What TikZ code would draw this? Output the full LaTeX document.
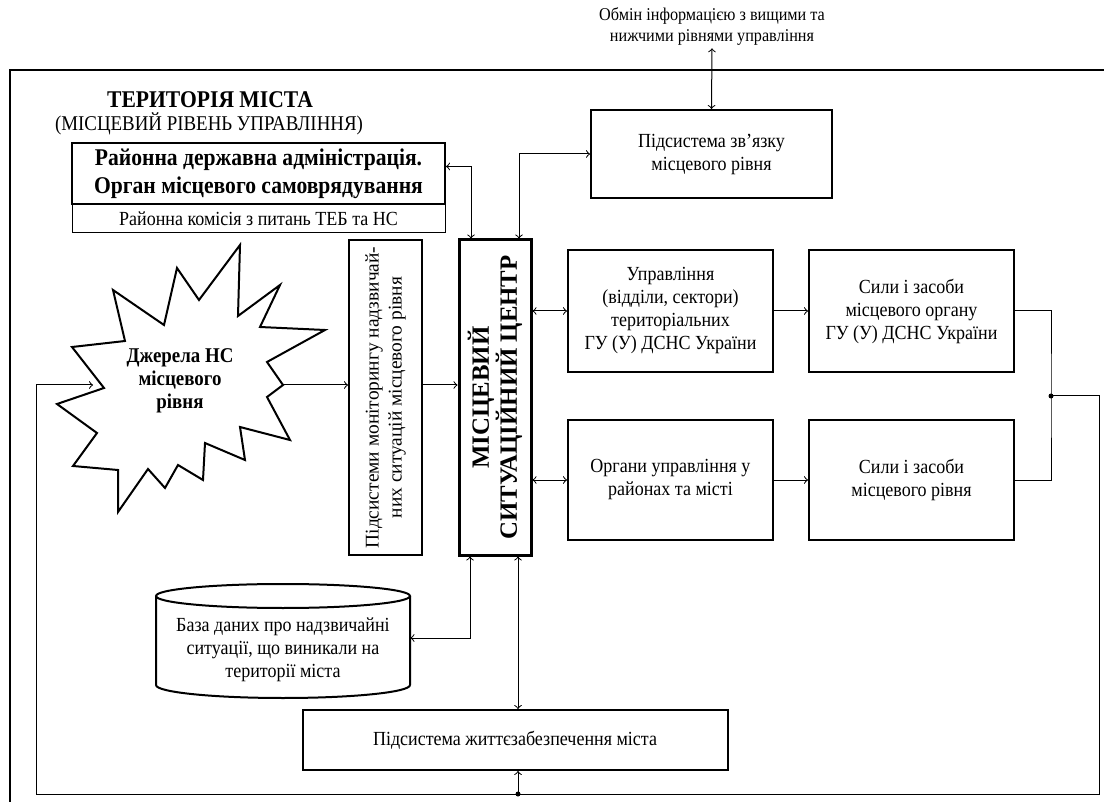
\documentclass[tikz,border=0pt]{standalone}
\usepackage{fontspec}
\setmainfont{Liberation Serif}[FakeStretch=0.9]
\newfontfamily\rotfont{Liberation Serif}
\usetikzlibrary{calc}

\begin{document}
\begin{tikzpicture}[x=0.5pt, y=-0.5pt, >=to,
  box/.style={draw, line width=1pt, align=center, inner sep=2pt, font=\fontsize{10}{11.5}\selectfont},
  txt/.style={align=center, inner sep=1pt, font=\fontsize{10}{11.5}\selectfont},
  bold/.style={txt, font=\bfseries\fontsize{12}{14}\selectfont},
  con/.style={line width=0.5pt}]
  \useasboundingbox (0,0) rectangle (1104,802);
  \draw[line width=1.2pt] (1104,70) -- (10,70) -- (10,802);
  \node[txt, font=\fontsize{9}{10.5}\selectfont] (obmin) at (712,27) {Обмін інформацією з вищими та\\нижчими рівнями управління};
  \node[bold] (ter) at (210,100) {ТЕРИТОРІЯ МІСТА};
  \node[txt, font=\fontsize{10.5}{12}\selectfont] (riv) at (209,124) {(МІСЦЕВИЙ РІВЕНЬ УПРАВЛІННЯ)};
  \node[box, minimum width=120.5pt, minimum height=44pt] (zv) at (711.5,154) {Підсистема зв’язку\\місцевого рівня};
  \node[box, font=\bfseries\fontsize{12}{14}\selectfont, minimum width=186.5pt, minimum height=30.5pt] (adm) at (258.5,173.5) {Районна державна адміністрація.\\Орган місцевого самоврядування};
  \node[box, line width=0.5pt, minimum width=186.5pt, minimum height=14.5pt] (kom) at (258.5,218.5) {Районна комісія з питань ТЕБ та НС};
  \node[box, minimum width=36.5pt, minimum height=157.5pt] (mon) at (385.5,397.5) {};
  \node[txt, rotate=90, font=\rotfont\fontsize{9.7}{11.5}\selectfont] (montxt) at (mon) {Підсистеми моніторингу надзвичай-\\них ситуацій місцевого рівня};
  \node[box, line width=1.5pt, minimum width=36pt, minimum height=157.5pt] (msc) at (495,397.5) {};
  \node[bold, rotate=90, font=\rotfont\bfseries\fontsize{12.4}{14}\selectfont] (msctxt) at (msc) {МІСЦЕВИЙ\\СИТУАЦІЙНИЙ ЦЕНТР};
  \node[box, minimum width=102.5pt, minimum height=61pt] (upr) at (670.5,311) {Управління\\(відділи, сектори)\\територіальних\\ГУ (У) ДСНС України};
  \node[box, minimum width=102.5pt, minimum height=61pt] (syl1) at (911.5,311) {Сили і засоби\\місцевого органу\\ГУ (У) ДСНС України};
  \node[box, minimum width=102.5pt, minimum height=60pt] (org) at (670.5,480) {Органи управління у\\районах та місті};
  \node[box, minimum width=102.5pt, minimum height=60pt] (syl2) at (911.5,480) {Сили і засоби\\місцевого рівня};
  \node[box, minimum width=212.5pt, minimum height=30pt] (zhyt) at (515,740) {Підсистема життєзабезпечення міста};
  \draw[line width=1pt] (240,245) -- (238,316) -- (280,285) -- (260,327) -- (325,330) -- (267,362) -- (283,385)
    -- (267,397) -- (290,440) -- (240,427) -- (245,460) -- (205,443) -- (203,480) -- (178,465) -- (165,488)
    -- (148,469) -- (118,512) -- (118,470) -- (73,466) -- (97,433) -- (57,404) -- (104,388) -- (72,347)
    -- (125,341) -- (113,290) -- (164,325) -- (177,268) -- (199,300) -- cycle;
  \node[txt, font=\bfseries\fontsize{10.5}{11.5}\selectfont] (dzh) at (180,381) {Джерела НС\\місцевого\\рівня};
  \coordinate (star) at (283,385);
  \coordinate (startip) at (93,385);
  \draw[line width=1pt] (156,596) -- (156,685) arc[start angle=180, end angle=0, x radius=127, y radius=13] -- (410,596);
  \draw[line width=1pt] (283,596) ellipse [x radius=127, y radius=12];
  \node[txt, minimum width=127pt] (bd) at (283,650) {База даних про надзвичайні\\ситуації, що виникали на\\території міста};
  \coordinate (mt1) at ($(msc.north)+(-24,0)$);
  \coordinate (mt2) at ($(msc.north)+(24,0)$);
  \coordinate (mb1) at ($(msc.south)+(-25,0)$);
  \coordinate (mb2) at ($(msc.south)+(23,0)$);
  \coordinate (j) at (1051,396);
  \coordinate (fbr) at (1099,794);
  \coordinate (fbl) at (36,794);
  \coordinate (dz) at (mb2 |- fbl);
  \draw[con, <->] (obmin.south) -- (zv.north);
  \draw[con, <->] ($(adm.east)+(0,-7)$) -| (mt1);
  \draw[con, <->] (mt2) |- (zv.west);
  \draw[con, ->] (star) -- (star -| mon.west);
  \draw[con, ->] (star -| mon.east) -- (star -| msc.west);
  \draw[con, <->] (msc.east |- upr.west) -- (upr.west);
  \draw[con, <->] (msc.east |- org.west) -- (org.west);
  \draw[con, ->] (upr.east) -- (syl1.west);
  \draw[con, ->] (org.east) -- (syl2.west);
  \draw[con] (syl1.east) -| (j) |- (syl2.east);
  \fill (j) circle (2.5);
  \draw[con, ->] (j) -| (fbr) -- (fbl) |- (startip);
  \draw[con, <->] ($(bd.east)+(0,-12)$) -| (mb1);
  \draw[con, <->] (mb2) -- (mb2 |- zhyt.north);
  \draw[con, ->] (dz) -- (dz |- zhyt.south);
  \fill (dz) circle (2.5);
\end{tikzpicture}
\end{document}
